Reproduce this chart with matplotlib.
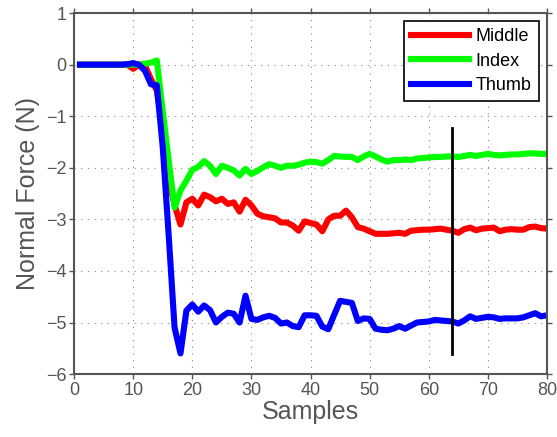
import matplotlib
matplotlib.use("Agg")
import matplotlib.pyplot as plt
import numpy as np

plt.rcParams['font.family'] = ['Liberation Sans', 'DejaVu Sans']

samples = np.arange(1, 81)

middle = [0, 0, 0, 0, 0, 0, 0, 0, 0, -0.08,
          0.0, -0.02, -0.28, -0.5, -1.3, -2.2, -2.72, -3.1, -2.67, -2.6,
          -2.73, -2.52, -2.57, -2.65, -2.6, -2.7, -2.67, -2.85, -2.62, -2.73,
          -2.89, -2.94, -2.96, -2.98, -3.06, -3.06, -3.12, -3.22, -3.04, -3.07,
          -3.1, -3.23, -3.0, -2.93, -2.93, -2.83, -2.96, -3.15, -3.18, -3.23,
          -3.28, -3.28, -3.28, -3.27, -3.26, -3.28, -3.22, -3.21, -3.2, -3.2,
          -3.19, -3.18, -3.2, -3.22, -3.26, -3.19, -3.16, -3.21, -3.18, -3.17,
          -3.16, -3.23, -3.2, -3.19, -3.2, -3.2, -3.15, -3.14, -3.17, -3.18]

index = [0, 0, 0, 0, 0, 0, 0, 0, 0, 0,
         0, 0.02, 0.04, 0.08, -0.9, -1.85, -2.77, -2.44, -2.25, -2.04,
         -1.98, -1.87, -1.96, -2.12, -1.96, -2.0, -2.05, -2.15, -2.02, -2.12,
         -2.06, -1.99, -1.93, -1.96, -2.0, -1.96, -1.96, -1.94, -1.9, -1.88,
         -1.89, -1.92, -1.85, -1.77, -1.78, -1.79, -1.79, -1.85, -1.78, -1.73,
         -1.78, -1.84, -1.88, -1.85, -1.85, -1.84, -1.85, -1.82, -1.81, -1.8,
         -1.79, -1.79, -1.78, -1.78, -1.79, -1.77, -1.75, -1.77, -1.75, -1.73,
         -1.75, -1.76, -1.75, -1.74, -1.74, -1.73, -1.72, -1.72, -1.73, -1.73]

thumb = [0, 0, 0, 0, 0, 0, 0, 0, 0.01, 0.03,
         0.0, -0.12, -0.38, -0.4, -1.6, -3.3, -5.1, -5.6, -4.77, -4.65,
         -4.79, -4.67, -4.76, -5.0, -4.89, -4.81, -4.83, -5.0, -4.48, -4.93,
         -4.95, -4.9, -4.87, -4.91, -5.02, -5.0, -5.07, -5.09, -4.86, -4.86,
         -4.87, -5.08, -5.13, -4.85, -4.58, -4.6, -4.62, -4.97, -4.92, -4.93,
         -5.12, -5.14, -5.15, -5.12, -5.07, -5.12, -5.06, -5.0, -4.99, -4.98,
         -4.95, -4.96, -4.97, -4.98, -5.02, -4.96, -4.88, -4.93, -4.91, -4.89,
         -4.9, -4.93, -4.92, -4.92, -4.92, -4.9, -4.86, -4.82, -4.88, -4.86]

marker_x = 64
marker_y = (-1.22, -5.62)

xticks = [0, 10, 20, 30, 40, 50, 60, 70, 80]
yticks = [1, 0, -1, -2, -3, -4, -5, -6]

axis_gray = '#555555'

fig = plt.figure(figsize=(5.57, 4.37), dpi=100)
ax = fig.add_axes([0.133, 0.144, 0.849, 0.826])

ax.plot(samples, middle, color='#ff0000', lw=4.4, label='Middle', solid_joinstyle='round')
ax.plot(samples, index, color='#00ff00', lw=4.4, label='Index', solid_joinstyle='round')
ax.plot(samples, thumb, color='#0000ff', lw=4.4, label='Thumb', solid_joinstyle='round')
ax.plot([marker_x, marker_x], marker_y, color='black', lw=2)

ax.set_xlim(0, 80)
ax.set_ylim(-6, 1)
ax.set_xticks(xticks)
ax.set_yticks(yticks)
ax.grid(True, linestyle=(0, (1, 5)), color='#888888', lw=0.8)

for s in ax.spines.values():
    s.set_color(axis_gray)
    s.set_linewidth(1.5)
ax.tick_params(axis='both', which='both', direction='out', length=3.5, width=1,
               color=axis_gray, labelcolor=axis_gray, labelsize=13,
               top=True, right=True, pad=2)

ax.set_xlabel('Samples', fontsize=18, color=axis_gray, labelpad=1)
ax.set_ylabel('Normal Force (N)', fontsize=18, color=axis_gray, labelpad=4)

leg = ax.legend(loc='upper right', fontsize=13, fancybox=False, framealpha=1,
                edgecolor='black', handlelength=3.2, borderaxespad=0.45,
                handletextpad=0.4, labelspacing=0.4, borderpad=0.4)
leg.get_frame().set_linewidth(1.2)

fig.savefig('out.png', dpi=100)
